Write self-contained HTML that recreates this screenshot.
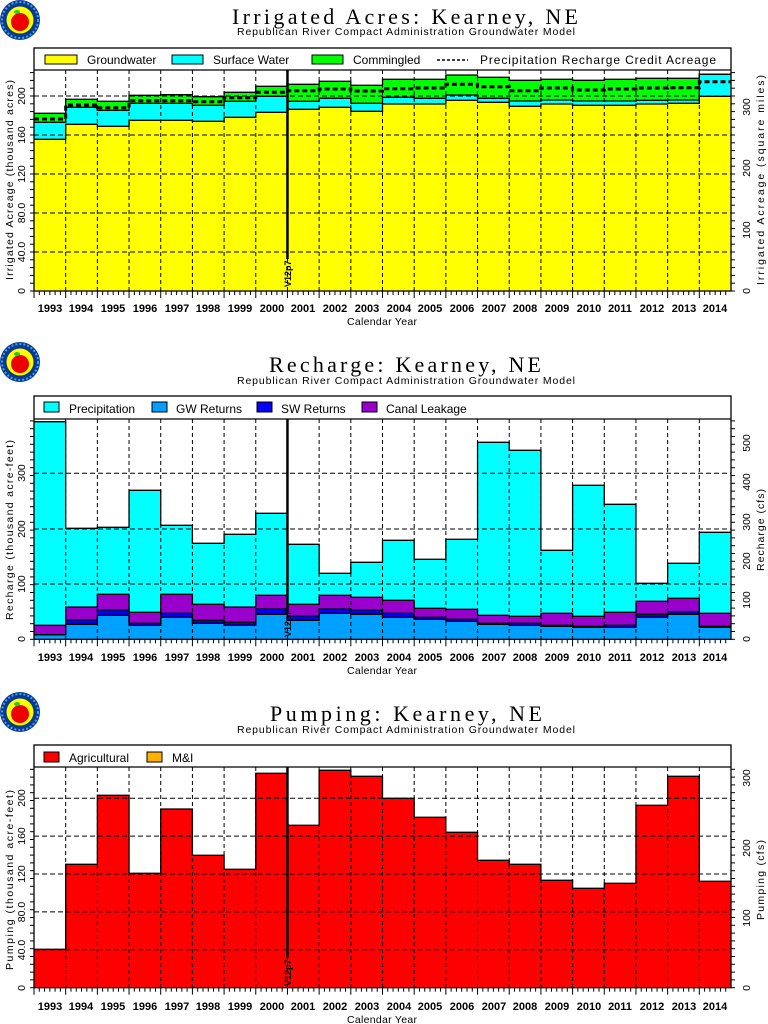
<!DOCTYPE html>
<html><head><meta charset="utf-8"><style>
html,body{margin:0;padding:0;background:#fff;width:768px;height:1024px;overflow:hidden}
svg{display:block}
.t{font-family:"Liberation Serif",serif;font-size:22px}
.s{font-family:"Liberation Sans",sans-serif;font-size:10.5px}
.l{font-family:"Liberation Sans",sans-serif;font-size:12px}
.y{font-family:"Liberation Sans",sans-serif;font-size:11px;font-weight:bold}
</style></head><body>
<svg id="svg" width="768" height="1024" xmlns="http://www.w3.org/2000/svg">
<g id="g"></g>
<!-- Chart 1 text -->
<text class="t" x="232" y="24" textLength="346">Irrigated Acres: Kearney, NE</text>
<text class="s" x="237" y="35" textLength="338">Republican River Compact Administration Groundwater Model</text>
<text class="l" x="87" y="64">Groundwater</text>
<text class="l" x="213" y="64">Surface Water</text>
<text class="l" x="353" y="64">Commingled</text>
<text class="l" x="480" y="64" textLength="236">Precipitation Recharge Credit Acreage</text>
<text class="s" x="382" y="325" text-anchor="middle" textLength="70">Calendar Year</text>
<text class="s" transform="translate(13,180) rotate(-90)" text-anchor="middle" textLength="200">Irrigated Acreage (thousand acres)</text>
<text class="s" transform="translate(764,180) rotate(-90)" text-anchor="middle" textLength="210">Irrigated Acreage (square miles)</text>
<!-- Chart 2 text -->
<text class="t" x="269" y="372" textLength="272">Recharge: Kearney, NE</text>
<text class="s" x="237" y="384" textLength="338">Republican River Compact Administration Groundwater Model</text>
<text class="l" x="69" y="413">Precipitation</text>
<text class="l" x="176" y="413">GW Returns</text>
<text class="l" x="281" y="413">SW Returns</text>
<text class="l" x="386" y="413">Canal Leakage</text>
<text class="s" x="382" y="674" text-anchor="middle" textLength="70">Calendar Year</text>
<text class="s" transform="translate(13,530) rotate(-90)" text-anchor="middle" textLength="180">Recharge (thousand acre-feet)</text>
<text class="s" transform="translate(764,530) rotate(-90)" text-anchor="middle" textLength="82">Recharge (cfs)</text>
<!-- Chart 3 text -->
<text class="t" x="270" y="721" textLength="272">Pumping: Kearney, NE</text>
<text class="s" x="237" y="733" textLength="338">Republican River Compact Administration Groundwater Model</text>
<text class="l" x="69" y="762">Agricultural</text>
<text class="l" x="172" y="762">M&amp;I</text>
<text class="s" x="382" y="1023" text-anchor="middle" textLength="70">Calendar Year</text>
<text class="s" transform="translate(13,880) rotate(-90)" text-anchor="middle" textLength="180">Pumping (thousand acre-feet)</text>
<text class="s" transform="translate(764,880) rotate(-90)" text-anchor="middle" textLength="80">Pumping (cfs)</text>
<!-- year labels -->
<g class="y" text-anchor="middle">
<g id="yr1">
<text x="50" y="312">1993</text><text x="81" y="312">1994</text><text x="113" y="312">1995</text><text x="145" y="312">1996</text><text x="177" y="312">1997</text><text x="208" y="312">1998</text><text x="240" y="312">1999</text><text x="272" y="312">2000</text><text x="303" y="312">2001</text><text x="335" y="312">2002</text><text x="367" y="312">2003</text><text x="399" y="312">2004</text><text x="430" y="312">2005</text><text x="462" y="312">2006</text><text x="494" y="312">2007</text><text x="525" y="312">2008</text><text x="557" y="312">2009</text><text x="589" y="312">2010</text><text x="620" y="312">2011</text><text x="652" y="312">2012</text><text x="684" y="312">2013</text><text x="715" y="312">2014</text>
</g>
<g transform="translate(0,349)">
<text x="50" y="312">1993</text><text x="81" y="312">1994</text><text x="113" y="312">1995</text><text x="145" y="312">1996</text><text x="177" y="312">1997</text><text x="208" y="312">1998</text><text x="240" y="312">1999</text><text x="272" y="312">2000</text><text x="303" y="312">2001</text><text x="335" y="312">2002</text><text x="367" y="312">2003</text><text x="399" y="312">2004</text><text x="430" y="312">2005</text><text x="462" y="312">2006</text><text x="494" y="312">2007</text><text x="525" y="312">2008</text><text x="557" y="312">2009</text><text x="589" y="312">2010</text><text x="620" y="312">2011</text><text x="652" y="312">2012</text><text x="684" y="312">2013</text><text x="715" y="312">2014</text>
</g>
<g transform="translate(0,698)">
<text x="50" y="312">1993</text><text x="81" y="312">1994</text><text x="113" y="312">1995</text><text x="145" y="312">1996</text><text x="177" y="312">1997</text><text x="208" y="312">1998</text><text x="240" y="312">1999</text><text x="272" y="312">2000</text><text x="303" y="312">2001</text><text x="335" y="312">2002</text><text x="367" y="312">2003</text><text x="399" y="312">2004</text><text x="430" y="312">2005</text><text x="462" y="312">2006</text><text x="494" y="312">2007</text><text x="525" y="312">2008</text><text x="557" y="312">2009</text><text x="589" y="312">2010</text><text x="620" y="312">2011</text><text x="652" y="312">2012</text><text x="684" y="312">2013</text><text x="715" y="312">2014</text>
</g>
</g>
<!-- axis tick labels -->
<g class="s">
<text transform="translate(25,291) rotate(-90)" text-anchor="middle">0</text>
<text transform="translate(25,252) rotate(-90)" text-anchor="middle">40.0</text>
<text transform="translate(25,213) rotate(-90)" text-anchor="middle">80.0</text>
<text transform="translate(25,174) rotate(-90)" text-anchor="middle">120</text>
<text transform="translate(25,135) rotate(-90)" text-anchor="middle">160</text>
<text transform="translate(25,96) rotate(-90)" text-anchor="middle">200</text>
<text transform="translate(750,291) rotate(-90)" text-anchor="middle">0</text>
<text transform="translate(750,230) rotate(-90)" text-anchor="middle">100</text>
<text transform="translate(750,168) rotate(-90)" text-anchor="middle">200</text>
<text transform="translate(750,107) rotate(-90)" text-anchor="middle">300</text>

<text transform="translate(25,639) rotate(-90)" text-anchor="middle">0</text>
<text transform="translate(25,584) rotate(-90)" text-anchor="middle">100</text>
<text transform="translate(25,529) rotate(-90)" text-anchor="middle">200</text>
<text transform="translate(25,473) rotate(-90)" text-anchor="middle">300</text>
<text transform="translate(750,639) rotate(-90)" text-anchor="middle">0</text>
<text transform="translate(750,600) rotate(-90)" text-anchor="middle">100</text>
<text transform="translate(750,561) rotate(-90)" text-anchor="middle">200</text>
<text transform="translate(750,522) rotate(-90)" text-anchor="middle">300</text>
<text transform="translate(750,482) rotate(-90)" text-anchor="middle">400</text>
<text transform="translate(750,443) rotate(-90)" text-anchor="middle">500</text>

<text transform="translate(25,988) rotate(-90)" text-anchor="middle">0</text>
<text transform="translate(25,950) rotate(-90)" text-anchor="middle">40.0</text>
<text transform="translate(25,912) rotate(-90)" text-anchor="middle">80.0</text>
<text transform="translate(25,874) rotate(-90)" text-anchor="middle">120</text>
<text transform="translate(25,836) rotate(-90)" text-anchor="middle">160</text>
<text transform="translate(25,798) rotate(-90)" text-anchor="middle">200</text>
<text transform="translate(750,988) rotate(-90)" text-anchor="middle">0</text>
<text transform="translate(750,918) rotate(-90)" text-anchor="middle">100</text>
<text transform="translate(750,848) rotate(-90)" text-anchor="middle">200</text>
<text transform="translate(750,778) rotate(-90)" text-anchor="middle">300</text>
</g>
<g font-family="Liberation Sans,sans-serif" font-size="9" font-weight="bold">
<text transform="translate(291,287) rotate(-90)">V12p7</text>
<text transform="translate(291,637) rotate(-90)">V12p7</text>
<text transform="translate(291,986) rotate(-90)">V12p7</text>
</g>
</svg>
<script>
(function(){
var NS="http://www.w3.org/2000/svg",g=document.getElementById('g');
function el(n,a){var e=document.createElementNS(NS,n);for(var k in a)e.setAttribute(k,a[k]);g.appendChild(e);return e;}
var L=34,R=731,W=(R-L)/22;
function X(i){return L+i*W;}
function logo(cx,cy){
 el('circle',{cx:cx,cy:cy,r:20,fill:'#0a3a8a'});
 el('circle',{cx:cx,cy:cy,r:18,fill:'none',stroke:'#3aa0ff','stroke-width':2,'stroke-dasharray':'2 2'});
 el('circle',{cx:cx,cy:cy,r:13.5,fill:'#ffff00'});
 el('ellipse',{cx:cx,cy:cy+2,rx:9,ry:9,fill:'#ee0000'});
 el('ellipse',{cx:cx-3,cy:cy-8,rx:3,ry:2,fill:'#22cc22'});
}
function fillCols(tops,bottom,color){
 for(var i=0;i<22;i++){el('rect',{x:X(i),y:tops[i],width:W+0.3,height:bottom-tops[i],fill:color});}
}
function step(tops,extra){
 var d='M'+X(0)+','+tops[0];
 for(var i=0;i<22;i++){d+=' L'+X(i)+','+tops[i]+' L'+X(i+1)+','+tops[i];}
 var a={d:d,fill:'none',stroke:'#000','stroke-width':1.3};
 for(var k in extra)a[k]=extra[k];
 el('path',a);
}
function frame(legTop,top,bottom,gridY,vx,vend){
 for(var i=1;i<22;i++)el('line',{x1:X(i),y1:top,x2:X(i),y2:bottom,stroke:'#000','stroke-width':1,'stroke-dasharray':'4 3'});
 gridY.forEach(function(y){el('line',{x1:L,y1:y,x2:R,y2:y,stroke:'#000','stroke-width':1,'stroke-dasharray':'5 3'});});
 el('rect',{x:L,y:legTop,width:R-L,height:bottom-legTop,fill:'none',stroke:'#000','stroke-width':1.3});
 el('line',{x1:L,y1:top,x2:R,y2:top,stroke:'#000','stroke-width':1.3});
 for(var i=0;i<22;i++){for(var j=1;j<6;j++){var x=X(i)+j*W/6;el('line',{x1:x,y1:bottom,x2:x,y2:bottom+4,stroke:'#000','stroke-width':1});}
  el('line',{x1:X(i),y1:bottom,x2:X(i),y2:bottom+7,stroke:'#000','stroke-width':1});}
 for(var y=bottom;y>top;y-=7.8){el('line',{x1:L-4,y1:y,x2:L,y2:y,stroke:'#000'});el('line',{x1:R,y1:y,x2:R+4,y2:y,stroke:'#000'});}
 el('line',{x1:vx,y1:top,x2:vx,y2:vend,stroke:'#000','stroke-width':2.5});
}
var VX=X(8);
logo(20,20);logo(20,362);logo(20,712);
var gw=[139.3,124.3,126.3,120.3,120.3,121.3,117.3,112.3,109.3,107.3,111.3,104,104,100.3,102.3,106.3,104,105.3,105.3,104,103.3,96.3];
var sw=[122.3,107.3,110.3,103.3,103.3,105.3,101.3,96.3,101.3,98.3,103.3,97.3,98.3,95,98.3,101,100,101,101,100.3,100,74.3];
var cm=[113.3,99.3,101.3,95.3,94.7,96.7,92.3,86.3,84.3,81.3,85.3,79.3,79.3,75,77.3,80.3,79.3,80.3,79.3,78.3,78.3,74.3];
var pr=[119,105,107.7,100.7,100.7,101.7,97.7,92.3,90.7,89,91,88.7,88,84.3,86.7,90.7,88,90,89,88,87.7,81.7];
fillCols(cm,291,'#00ff00');fillCols(sw,291,'#00ffff');fillCols(gw,291,'#ffff00');
frame(48,70,291,[252,213,174,135,96],VX,259);
step(cm);step(sw);step(gw);step(pr,{'stroke-width':3,'stroke-dasharray':'5 3'});
el('rect',{x:45,y:55,width:32,height:9,fill:'#ffff00',stroke:'#000'});
el('rect',{x:172,y:55,width:31,height:9,fill:'#00ffff',stroke:'#000'});
el('rect',{x:312,y:55,width:31,height:9,fill:'#00ff00',stroke:'#000'});
el('line',{x1:437,y1:60,x2:468,y2:60,stroke:'#000','stroke-width':1.5,'stroke-dasharray':'3 2'});
var p=[421.7,528.3,527.3,490.3,525.3,543.3,534.3,513.3,544.3,573.3,562.3,540.3,559.3,539.3,442.3,450.3,550.3,485.3,504.3,583.3,563.3,532.3];
var c=[625.3,607,594.3,612.3,594.3,604.3,607,595.3,604.3,595.3,597.3,600.3,608.3,609.3,615.3,616.3,613.3,616.3,612.3,601.3,598.3,613.3];
var s=[634.7,620,610,623.3,613.3,620.3,622.3,609,616,609,610,613.3,617.3,619.3,623.3,623.3,625.3,626.3,625.3,614.3,611.7,626.3];
var w=[634.7,624.3,615.3,625.3,617.3,623.3,625.3,614.3,620.3,613.3,614.3,617.3,619.3,621.3,624.3,625.3,626.3,627.3,627.3,617.3,614.3,627.3];
fillCols(p,639.3,'#00ffff');fillCols(c,639.3,'#9900cc');fillCols(s,639.3,'#0000ff');fillCols(w,639.3,'#00a0ff');
frame(396,419,639.3,[584,529,473.3],VX,612);
step(p);step(c);step(s);step(w);
el('rect',{x:44,y:402,width:15,height:10,fill:'#00ffff',stroke:'#000'});
el('rect',{x:152,y:402,width:15,height:10,fill:'#00a0ff',stroke:'#000'});
el('rect',{x:257,y:402,width:15,height:10,fill:'#0000ff',stroke:'#000'});
el('rect',{x:362,y:402,width:15,height:10,fill:'#9900cc',stroke:'#000'});
var a=[949.3,864.3,795.3,873.3,809,855.3,869.3,773.3,825.3,770.3,776.3,798.3,817.3,832.3,860.3,864.3,880.3,888.3,883.3,805.3,776.3,881.3];
fillCols(a,987.7,'#ff0000');
frame(745,767,987.7,[949.8,911.9,874,836.1,798.3],VX,958);
step(a);
el('rect',{x:44,y:752,width:15,height:10,fill:'#ff0000',stroke:'#000'});
el('rect',{x:147,y:752,width:15,height:10,fill:'#ffb000',stroke:'#000'});
})();
</script>
</body></html>
